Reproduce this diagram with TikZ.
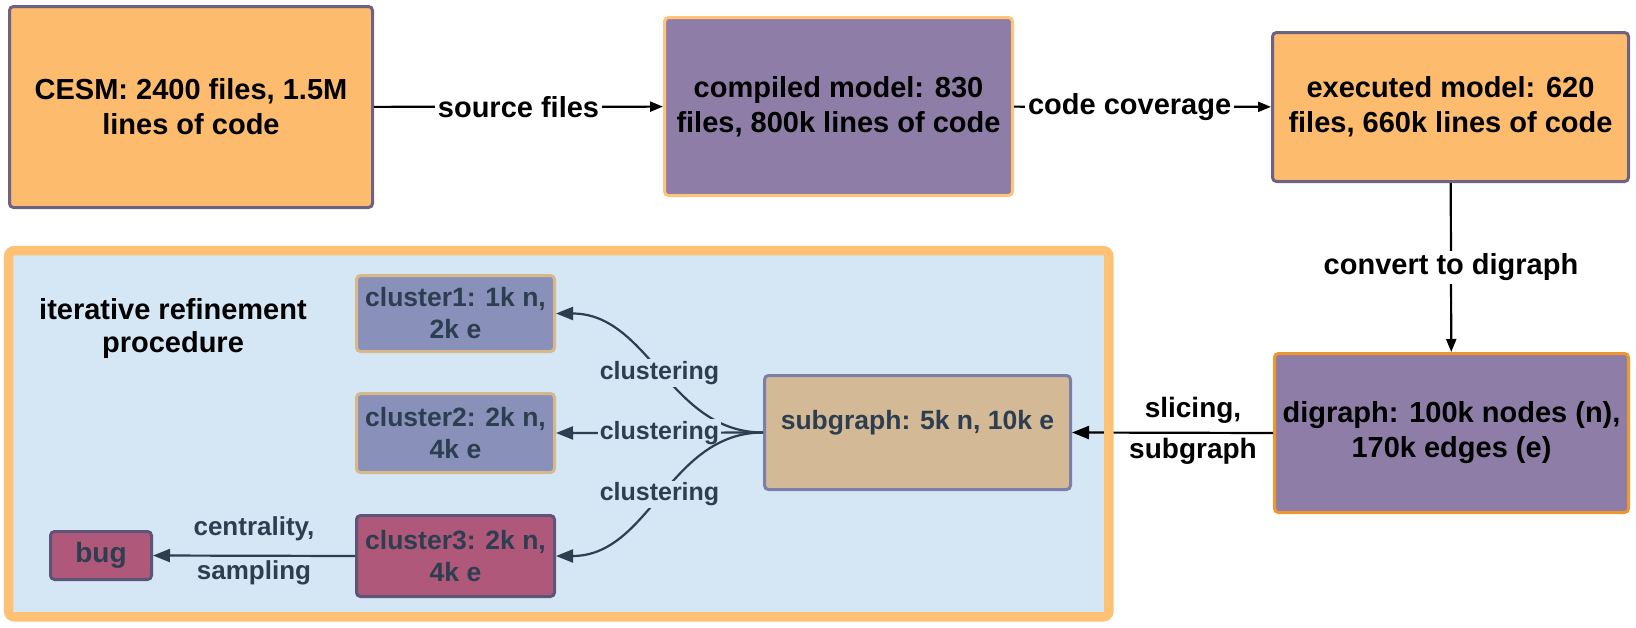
\documentclass[tikz,border=0pt]{standalone}
\usepackage{fontspec}
\setmainfont{Liberation Sans}
\usetikzlibrary{arrows.meta}
\definecolor{orfill}{HTML}{FCBB6D}
\definecolor{purfill}{HTML}{8E7DA6}
\definecolor{greyline}{HTML}{6E6282}
\definecolor{lightor}{HTML}{FFC47A}
\definecolor{darkor}{HTML}{F0962F}
\definecolor{bgblue}{HTML}{D5E7F4}
\definecolor{frameor}{HTML}{FFC174}
\definecolor{clfill}{HTML}{8990BA}
\definecolor{clline}{HTML}{D6B88A}
\definecolor{redfill}{HTML}{B0587A}
\definecolor{redline}{HTML}{5E5478}
\definecolor{subfill}{HTML}{D3B996}
\definecolor{subline}{HTML}{7A80A8}
\definecolor{slate}{HTML}{2C3E50}
\tikzset{
  bigbox/.style={draw, line width=3pt, rounded corners=4pt, align=center, inner sep=0pt,
    font=\bfseries\fontsize{29}{35}\selectfont},
  smallbox/.style={draw, line width=3pt, rounded corners=4pt, align=center, inner sep=0pt,
    text=slate, font=\bfseries\fontsize{26.5}{32}\selectfont},
  toparrow/.style={line width=2.2pt, -{Triangle[length=13pt,width=10pt]}},
  inarrow/.style={line width=2.2pt, draw=slate, -{Triangle[length=17pt,width=13pt]}},
  toplbl/.style={font=\bfseries\fontsize{29}{35}\selectfont, inner sep=3pt},
  inlbl/.style={text=slate, font=\bfseries\fontsize{25}{30}\selectfont, inner sep=2pt},
}
\begin{document}
\begin{tikzpicture}[x=1pt,y=-1pt]
\useasboundingbox (0,0) rectangle (1636,627);
% top row
\node[bigbox, fill=orfill, draw=greyline, minimum width=363pt, minimum height=201pt] (cesm) at (191,107) {CESM: 2400 files, 1.5M\\lines of code};
\node[bigbox, fill=purfill, draw=lightor, minimum width=348pt, minimum height=178pt] (comp) at (838.5,106.5) {compiled model: 830\\files, 800k lines of code};
\node[bigbox, fill=orfill, draw=greyline, minimum width=356pt, minimum height=149pt] (exec) at (1450.5,107) {executed model: 620\\files, 660k lines of code};
\node[bigbox, fill=purfill, draw=darkor, minimum width=354pt, minimum height=159pt] (dig) at (1451.5,433) {digraph: 100k nodes (n),\\170k edges (e)};
\draw[toparrow] (cesm) -- node[toplbl, fill=white] (lsrc) {source files} (comp);
\draw[toparrow] (comp) -- node[toplbl, fill=white, pos=0.45] (lcov) {code coverage} (exec);
\draw[toparrow] (exec) -- node[toplbl, fill=white] (lconv) {convert to digraph} (dig);
% container
\node[fill=bgblue, minimum width=1100pt, minimum height=366pt, inner sep=0pt] (frame) at (558.75,433.75) {};
\node[smallbox, fill=subfill, draw=subline, minimum width=306pt, minimum height=114pt] (sub) at (917.5,432.5) {subgraph: 5k n, 10k e\\[-6pt]};
\draw[line width=2.2pt, -{Triangle[length=17pt,width=13pt]}] (dig.west) -- (sub.east);
\draw[frameor, line width=9.5pt, rounded corners=6pt] (frame.north west) rectangle (frame.south east);
\node[toplbl, align=center, font=\bfseries\fontsize{28}{41}\selectfont] (lslice) at (1193,431) {slicing,\\subgraph};
% clusters
\node[smallbox, fill=clfill, draw=clline, minimum width=198pt, minimum height=76pt] (c1) at (455.5,313.5) {cluster1: 1k n,\\2k e};
\node[smallbox, fill=clfill, draw=clline, minimum width=198pt, minimum height=79pt] (c2) at (455.5,433) {cluster2: 2k n,\\4k e};
\node[smallbox, fill=redfill, draw=redline, minimum width=198pt, minimum height=81pt] (c3) at (455.5,556) {cluster3: 2k n,\\4k e};
\node[smallbox, fill=redfill, draw=redline, minimum width=101pt, minimum height=48pt, font=\bfseries\fontsize{28}{32}\selectfont] (bug) at (101,555.5) {bug};
\node[align=center, font=\bfseries\fontsize{29}{33}\selectfont] (title) at (173,328) {iterative refinement\\procedure};
\draw[inarrow] (sub.west) to[out=180,in=0] node[inlbl, fill=bgblue] (lc1) {clustering} (c1.east);
\draw[inarrow] (sub.west) -- node[inlbl, fill=bgblue] (lc2) {clustering} (c2.east);
\draw[inarrow] (sub.west) to[out=180,in=0] node[inlbl, fill=bgblue] (lc3) {clustering} (c3.east);
\draw[inarrow] (c3.west) -- (bug.east);
\node[inlbl, align=center, font=\bfseries\fontsize{26}{44}\selectfont] (lcent) at (254,551) {centrality,\\sampling};
\end{tikzpicture}
\end{document}
